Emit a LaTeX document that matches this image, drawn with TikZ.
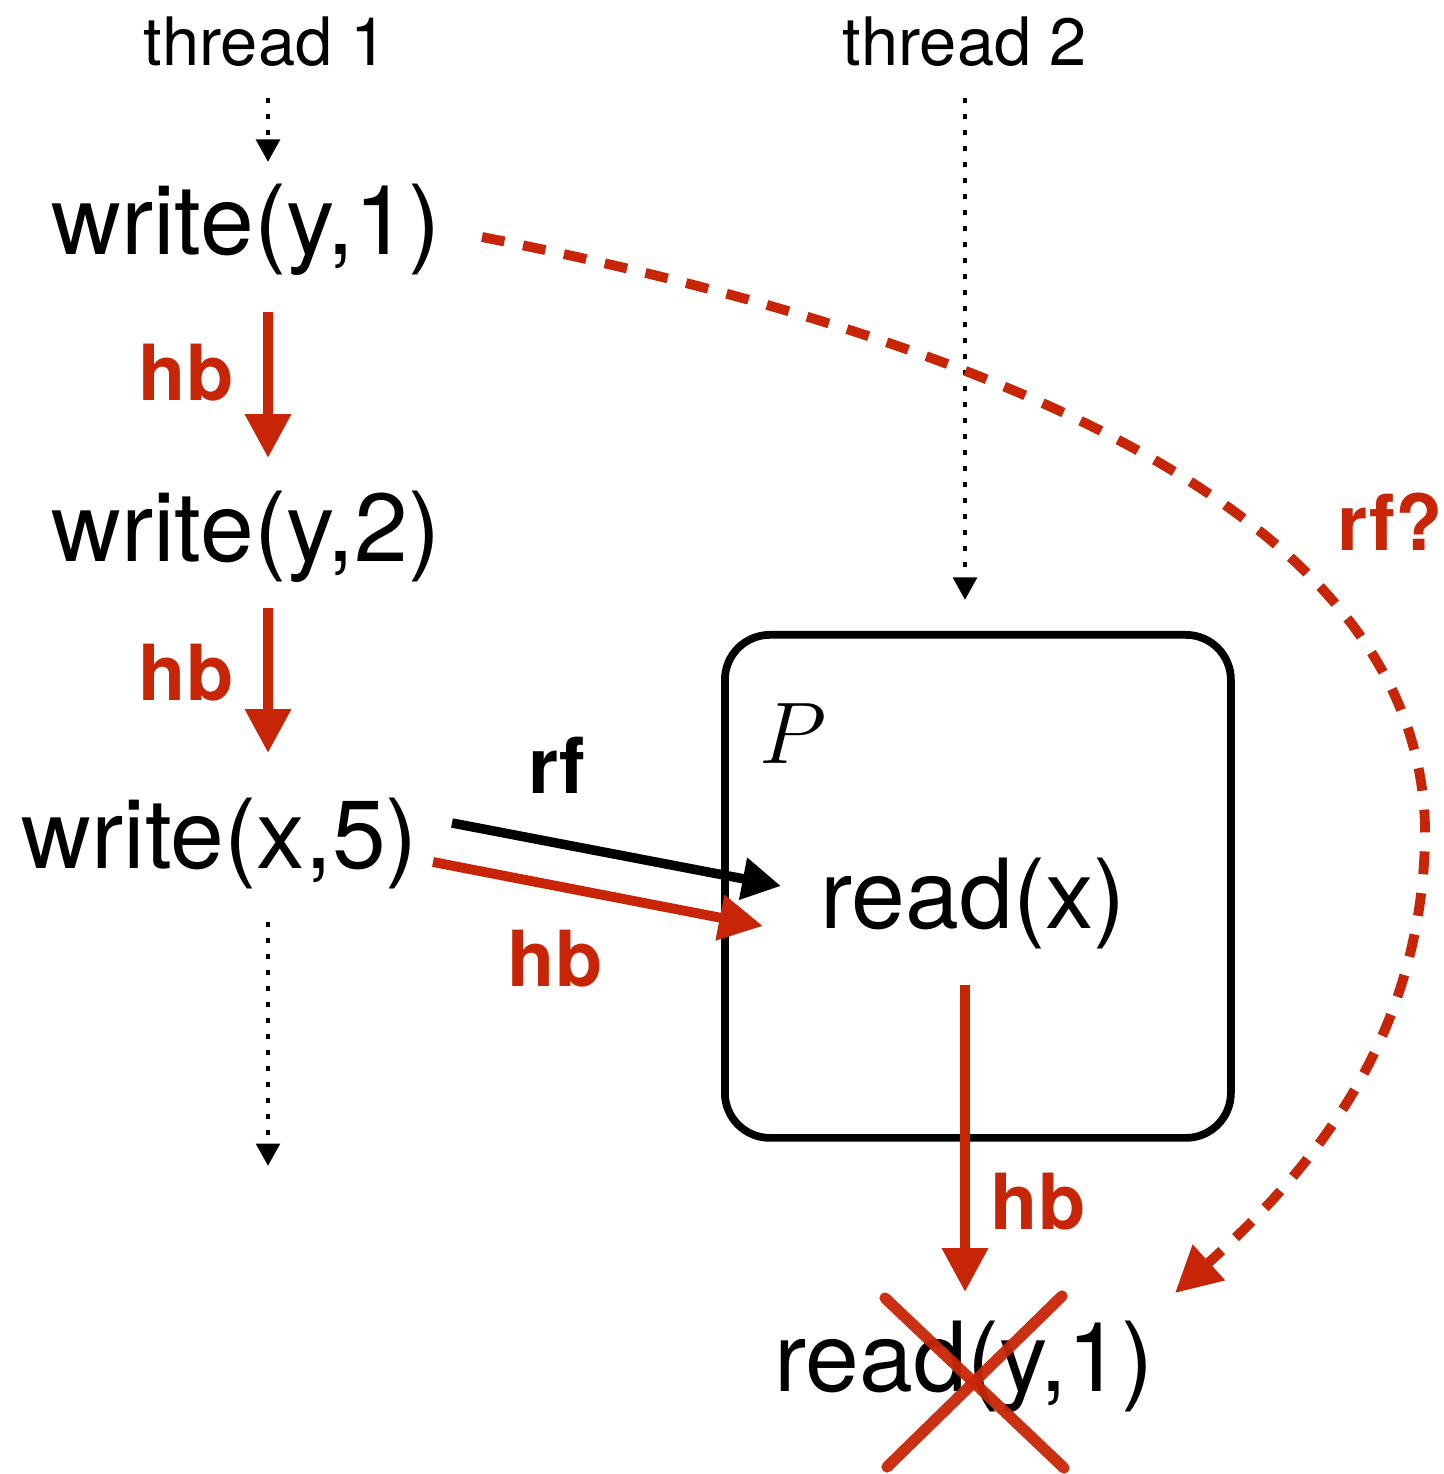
\documentclass[tikz,border=0pt]{standalone}
\usepackage{fontspec}
\setmainfont{TeX Gyre Heros}
\usetikzlibrary{arrows.meta,shadows}
\definecolor{hbred}{RGB}{200,37,6}
\tikzset{
  lbl/.style={inner sep=0pt, font=\fontsize{27.5}{32}\selectfont},
  thr/.style={inner sep=0pt, font=\fontsize{19}{23}\selectfont},
  redlbl/.style={inner sep=0pt, text=hbred, font=\fontsize{22}{26}\selectfont\bfseries},
  blklbl/.style={inner sep=0pt, font=\fontsize{22}{26}\selectfont\bfseries},
  dotline/.style={line width=1.4pt, dash pattern=on 1.4pt off 3.15pt, -{Triangle[width=6.6pt,length=6.4pt]}},
  hbarrow/.style={hbred, line width=2.8pt, -{Triangle[width=12.5pt,length=12.5pt]}},
  rfarrow/.style={black, line width=2.7pt, -{Triangle[width=11.5pt,length=11pt]}},
  rfq/.style={hbred, line width=2.8pt, dash pattern=on 6.5pt off 5.4pt, -{Triangle[width=13pt,length=13pt]}},
  procbox/.style={draw, line width=2.2pt, rounded corners=12.8pt, fill=white, drop shadow={opacity=0.18, shadow xshift=0.6pt, shadow yshift=-0.6pt}}
}
\begin{document}
\begin{tikzpicture}[x=0.01cm, y=-0.01cm]
\useasboundingbox (0,0) rectangle (1443,1474);
% box
\node[procbox, minimum width=506*0.01cm, minimum height=503*0.01cm, anchor=north west, inner sep=0pt] (box) at (721,631) {};
\node[inner sep=0pt, font=\fontsize{28}{32}\selectfont] (P) at (793,734) {$P$};
% texts
\node[thr] (t1) at (266,42) {thread 1};
\node[thr] (t2) at (965,42) {thread 2};
\node[lbl] (w1) at (246,230) {write(y,1)};
\node[lbl] (w2) at (246,537) {write(y,2)};
\node[lbl] (w3) at (220,843) {write(x,5)};
\node[lbl] (rx) at (973,903) {read(x)};
\node[lbl] (ry) at (964,1367) {read(y,1)};
% labels
\node[redlbl] (hb1) at (186,373) {hb};
\node[redlbl] (hb2) at (186,673) {hb};
\node[redlbl] (hb3) at (555,959) {hb};
\node[redlbl] (hb4) at (1038,1202) {hb};
\node[blklbl] (rf) at (557,765) {rf};
\node[redlbl] (rfq) at (1390,522) {rf?};
% coordinates
\coordinate (a1s) at (268,98);
\coordinate (a1e) at (268,162);
\coordinate (a2s) at (965,98);
\coordinate (a2e) at (965,600);
\coordinate (a3s) at (268,922);
\coordinate (a3e) at (268,1166);
\coordinate (h1s) at (268,312);
\coordinate (h1e) at (268,458);
\coordinate (h2s) at (268,608);
\coordinate (h2e) at (268,753);
\coordinate (rfs) at (452,823);
\coordinate (rfe) at (781,886);
\coordinate (hbs) at (433,862);
\coordinate (hbe) at (763,926);
\coordinate (h4s) at (965,985);
\coordinate (h4e) at (965,1292);
\coordinate (qs) at (482,237);
\coordinate (qm) at (1425,840);
\coordinate (qe) at (1175,1293);
% thread lines
\draw[dotline] (a1s) -- (a1e);
\draw[dotline] (a2s) -- (a2e);
\draw[dotline] (a3s) -- (a3e);
% hb arrows
\draw[hbarrow] (h1s) -- (h1e);
\draw[hbarrow] (h2s) -- (h2e);
\draw[rfarrow] (rfs) -- (rfe);
\draw[hbarrow] (hbs) -- (hbe);
\draw[hbarrow] (h4s) -- (h4e);
% rf? curve
\draw[rfq] (qs) .. controls (1000,340) and (1430,520) .. (qm) .. controls (1420,1050) and (1300,1180) .. (qe);
% cross
\coordinate (x1) at (885,1298);
\coordinate (x2) at (1064,1468);
\coordinate (x3) at (1062,1296);
\coordinate (x4) at (887,1467);
\draw[hbred, line width=3.2pt, line cap=round, opacity=0.95] (x1) -- (x2);
\draw[hbred, line width=3.2pt, line cap=round, opacity=0.95] (x3) -- (x4);
\end{tikzpicture}
\end{document}
